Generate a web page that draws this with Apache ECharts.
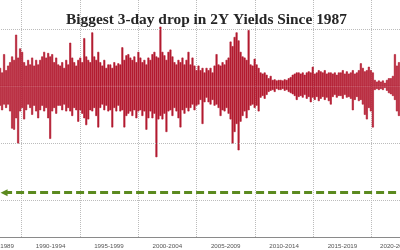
<!DOCTYPE html>
<html>
<head>
<meta charset="utf-8">
<script src="https://cdn.jsdelivr.net/npm/echarts@6/dist/echarts.min.js"></script>
<style>
  html, body { margin: 0; padding: 0; background: #fff; overflow: hidden; width: 400px; height: 250px; }
  /* the picture is a crop of a wider chart: 1985-2024 spans 467px, shifted left */
  #chart { position: absolute; left: -37px; top: 0; width: 467px; height: 250px; }
</style>
</head>
<body>
<div id="chart"></div>
<script>
  // 3-day change in 2Y yields (bp), read off the picture as the upper / lower
  // edge of the daily bars, one pair per 2px column of the visible window
  const periods = ['1985-1989', '1990-1994', '1995-1999', '2000-2004', '2005-2009', '2010-2014', '2015-2019', '2020-2024'];
  const years = Array.from({ length: 40 }, (_, i) => String(1985 + i));

  const rises = [
    16, 12, 28, 14, 18, 21, 26, 23, 45, 25,
    33, 30, 21, 18, 23, 19, 25, 18, 23, 19,
    23, 26, 30, 25, 29, 26, 28, 21, 25, 19,
    18, 21, 16, 23, 19, 38, 25, 21, 18, 23,
    25, 21, 42, 26, 23, 21, 47, 26, 23, 30,
    21, 18, 23, 16, 19, 19, 16, 21, 18, 20,
    19, 34, 23, 27, 28, 25, 23, 26, 21, 30,
    25, 21, 23, 19, 25, 23, 28, 30, 26, 25,
    52, 30, 27, 23, 30, 32, 26, 21, 19, 23,
    21, 25, 19, 23, 30, 19, 25, 18, 14, 18,
    14, 16, 12, 16, 14, 16, 12, 18, 28, 19,
    18, 21, 19, 23, 25, 39, 35, 43, 47, 40,
    30, 26, 25, 23, 49, 19, 18, 24, 19, 16,
    12, 11, 12, 10, 7, 9, 5.5, 6, 5, 5.5,
    5.5, 5, 6, 5.5, 7, 8, 10, 11, 12, 12,
    11, 12, 10, 12, 13, 12, 17, 11, 12, 14,
    13, 12, 14, 11, 12, 12, 11, 12, 10, 12,
    12, 14, 11, 13, 11, 12, 14, 11, 12, 14,
    20, 16, 13, 14, 17, 14, 12, 5.5, 4, 5,
    4, 5, 3, 5.5, 7, 7, 9, 28, 18, 21
  ];

  const drops = [
    -17, -21, -16, -19, -16, -22, -37, -38, -28, -50,
    -22, -19, -29, -21, -16, -19, -25, -17, -22, -28,
    -21, -17, -22, -19, -28, -46, -22, -19, -24, -17,
    -17, -21, -16, -22, -19, -22, -26, -19, -21, -31,
    -21, -24, -28, -34, -29, -21, -22, -19, -26, -36,
    -19, -16, -21, -17, -22, -21, -36, -19, -22, -17,
    -22, -21, -36, -26, -24, -22, -26, -21, -28, -22,
    -21, -26, -22, -38, -28, -22, -28, -24, -62, -29,
    -26, -29, -24, -40, -22, -21, -26, -19, -22, -28,
    -36, -21, -24, -19, -22, -19, -16, -21, -17, -16,
    -12, -33, -14, -10, -14, -16, -12, -17, -16, -19,
    -26, -21, -22, -19, -24, -29, -50, -40, -33, -56,
    -31, -26, -22, -28, -21, -17, -16, -19, -17, -22,
    -10, -8.5, -11, -7.6, -5, -4, -3.3, -5, -2.4, -3.3,
    -3.3, -2.4, -4, -3.3, -5, -6, -7, -8.5, -12, -9.4,
    -8.5, -10, -7.6, -11, -9.4, -14, -10, -12, -9.4, -13,
    -11, -9.4, -12, -10, -13, -16, -9.4, -7.6, -10, -8.5,
    -8.5, -11, -7.6, -10, -9.4, -11, -21, -12, -9.4, -13,
    -12, -16, -25, -29, -19, -22, -36, -3.3, -2.4, -3.3,
    -2.4, -3.3, -1.5, -4, -6, -7, -8.5, -12, -22, -26
  ];

  const svbDrop = -93;          // level of the March 2023 3-day drop
  const gridLevels = [50, -50, -100];

  // sample slots covering 1985-2024; the picture shows slots 18..217
  const slotCount = 233;
  const firstShown = 18;
  const samples = Array.from({ length: slotCount }, (_, i) => (1985 + (i * 40) / slotCount).toFixed(2));
  const pad = (arr) => {
    const out = new Array(slotCount).fill(null);
    arr.forEach((v, i) => (out[firstShown + i] = v));
    return out;
  };

  const red = '#b31b30';
  const labelFont = { fontSize: 6.2, color: '#555', fontFamily: 'Liberation Sans' };
  const chart = echarts.init(document.getElementById('chart'));

  const option = {
    animation: false,
    backgroundColor: '#fff',
    title: {
      text: 'Biggest 3-day drop in 2Y Yields Since 1987',
      left: 98,
      top: 8,
      textStyle: {
        fontFamily: 'Liberation Serif',
        fontWeight: 'bold',
        fontSize: 15.4,
        color: '#262626',
      },
    },
    grid: { left: 0, right: 0, top: 0, bottom: 13 },
    xAxis: [
      {
        type: 'category',
        data: samples,
        show: false,
      },
      {
        type: 'category',
        data: periods,
        position: 'bottom',
        boundaryGap: true,
        axisLine: { lineStyle: { color: '#8a8a8a', width: 1 } },
        axisTick: { interval: 0, length: 14, lineStyle: { color: '#9a9a9a' } },
        axisLabel: {
          interval: 0,
          margin: 6,
          ...labelFont,
          // edge labels sit a little inward in the original
          formatter: (v, i) => (i === 0 ? '{first|' + v + '}' : i === periods.length - 1 ? '{last|' + v + '}' : v),
          rich: {
            first: { ...labelFont, padding: [0, 0, 0, 14] },
            last: { ...labelFont, padding: [0, 12, 0, 0] },
          },
        },
        splitLine: { show: true, interval: 0, lineStyle: { color: '#bcbcbc', type: 'dotted', width: 1 } },
      },
      {
        type: 'category',
        data: years,
        position: 'bottom',
        axisLine: { show: false },
        axisTick: { inside: true, length: 2, lineStyle: { color: '#a0a0a0' } },
        axisLabel: { show: false },
        splitLine: { show: false },
      },
    ],
    yAxis: {
      type: 'value',
      min: -131.7,
      max: 75.3,
      show: false,
      splitLine: { show: false },
    },
    series: [
      {
        name: 'grid',
        type: 'line',
        data: [],
        z: 1,
        markLine: {
          silent: true,
          symbol: 'none',
          label: { show: false },
          lineStyle: { color: '#bcbcbc', type: 'dotted', width: 1 },
          data: gridLevels.map((v) => ({ yAxis: v })),
        },
      },
      {
        name: 'rises',
        type: 'bar',
        data: pad(rises),
        barGap: '-100%',
        barCategoryGap: 0,
        itemStyle: { color: red, borderColor: red, borderWidth: 0.6 },
        z: 2,
      },
      {
        name: 'drops',
        type: 'bar',
        data: pad(drops),
        barGap: '-100%',
        barCategoryGap: 0,
        itemStyle: { color: red, borderColor: red, borderWidth: 0.6 },
        z: 2,
        markLine: {
          silent: true,
          symbol: ['triangle', 'none'],
          symbolSize: [7, 7],
          label: { show: false },
          lineStyle: { color: '#5b8a1f', width: 3, type: [8, 4] },
          data: [[{ coord: [samples[20], svbDrop] }, { coord: [samples[slotCount - 1], svbDrop] }]],
        },
      },
    ],
  };

  option && chart.setOption(option);
</script>
</body>
</html>
